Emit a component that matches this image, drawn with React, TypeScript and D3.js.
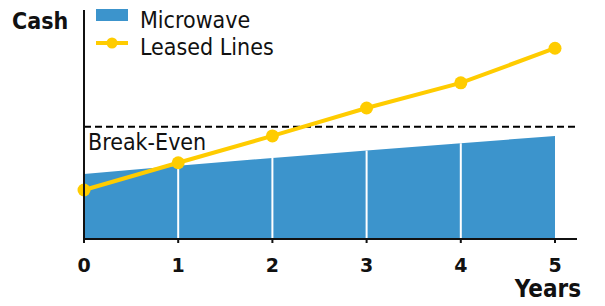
import { useRef, useEffect } from "react";
import * as d3 from "d3";

// data
const years = [0, 1, 2, 3, 4, 5];
const microwave = [28.4, 32, 35.4, 38.6, 41.8, 45];
const leasedLines = [21.4, 33.3, 45, 57.2, 68.2, 83.3];
const breakEven = 49;
const seriesNames = ["Microwave", "Leased Lines"];

const BLUE = "#3c94cc";
const YELLOW = "#ffcc00";
const FONT = "'DejaVu Sans Condensed', 'DejaVu Sans', sans-serif";

export default function App() {
  const svgRef = useRef<SVGSVGElement>(null);

  useEffect(() => {
    const width = 605;
    const height = 306;

    const svg = d3.select(svgRef.current).attr("width", width).attr("height", height);
    svg.selectAll("*").remove();

    const x = d3.scaleLinear().domain([0, 5]).range([84, 555]);
    const y = d3.scaleLinear().domain([0, 100]).range([239, 10]);

    const mwData = years.map((yr, i) => ({ x: yr, y: microwave[i] }));
    const llData = years.map((yr, i) => ({ x: yr, y: leasedLines[i] }));

    // microwave area
    const area = d3
      .area<{ x: number; y: number }>()
      .x((d) => x(d.x))
      .y0(y(0))
      .y1((d) => y(d.y));
    svg.append("path").datum(mwData).attr("d", area).attr("fill", BLUE);

    // white separators inside area
    svg
      .selectAll(".sep")
      .data(mwData.slice(1, -1))
      .join("line")
      .attr("x1", (d) => x(d.x))
      .attr("x2", (d) => x(d.x))
      .attr("y1", (d) => y(d.y))
      .attr("y2", y(0))
      .attr("stroke", "#fff")
      .attr("stroke-width", 2);

    // break-even
    svg
      .append("line")
      .attr("x1", x(0))
      .attr("x2", 577)
      .attr("y1", y(breakEven))
      .attr("y2", y(breakEven))
      .attr("stroke", "#000")
      .attr("stroke-width", 2)
      .attr("stroke-dasharray", "7,4");
    svg
      .append("text")
      .attr("x", 88)
      .attr("y", y(breakEven) + 23)
      .attr("font-family", FONT)
      .attr("font-size", 23)
      .attr("fill", "#111")
      .text("Break-Even");

    // leased lines
    const line = d3
      .line<{ x: number; y: number }>()
      .x((d) => x(d.x))
      .y((d) => y(d.y));
    svg
      .append("path")
      .datum(llData)
      .attr("d", line)
      .attr("fill", "none")
      .attr("stroke", YELLOW)
      .attr("stroke-width", 4);
    svg
      .selectAll(".dot")
      .data(llData)
      .join("circle")
      .attr("cx", (d) => x(d.x))
      .attr("cy", (d) => y(d.y))
      .attr("r", 6.5)
      .attr("fill", YELLOW);

    // axes
    svg
      .append("line")
      .attr("x1", x(0))
      .attr("x2", x(0))
      .attr("y1", 10)
      .attr("y2", y(0) + 1)
      .attr("stroke", "#111")
      .attr("stroke-width", 2);
    svg
      .append("line")
      .attr("x1", x(0) - 1)
      .attr("x2", 577)
      .attr("y1", y(0))
      .attr("y2", y(0))
      .attr("stroke", "#111")
      .attr("stroke-width", 2);

    svg
      .selectAll(".tick")
      .data(years)
      .join("line")
      .attr("x1", (d) => x(d))
      .attr("x2", (d) => x(d))
      .attr("y1", y(0))
      .attr("y2", y(0) + 4)
      .attr("stroke", "#111")
      .attr("stroke-width", 2);

    svg
      .selectAll(".tickLabel")
      .data(years)
      .join("text")
      .attr("x", (d) => x(d))
      .attr("y", 272)
      .attr("text-anchor", "middle")
      .attr("font-family", "'DejaVu Sans', sans-serif")
      .attr("font-weight", "bold")
      .attr("font-size", 19)
      .attr("fill", "#111")
      .text((d) => d);

    svg
      .append("text")
      .attr("x", 581)
      .attr("y", 297)
      .attr("text-anchor", "end")
      .attr("font-family", FONT)
      .attr("font-weight", "bold")
      .attr("font-size", 24)
      .attr("fill", "#111")
      .text("Years");

    svg
      .append("text")
      .attr("x", 12)
      .attr("y", 29)
      .attr("font-family", FONT)
      .attr("font-weight", "bold")
      .attr("font-size", 23)
      .attr("fill", "#111")
      .text("Cash");

    // legend
    const legend = svg.append("g");
    legend.append("rect").attr("x", 96).attr("y", 9).attr("width", 32).attr("height", 12).attr("fill", BLUE);
    legend
      .append("line")
      .attr("x1", 96)
      .attr("x2", 128)
      .attr("y1", 43)
      .attr("y2", 43)
      .attr("stroke", YELLOW)
      .attr("stroke-width", 4);
    legend.append("circle").attr("cx", 112).attr("cy", 43).attr("r", 5.5).attr("fill", YELLOW);
    legend
      .selectAll("text")
      .data(seriesNames)
      .join("text")
      .attr("x", 140)
      .attr("y", (d, i) => 28 + i * 27)
      .attr("font-family", FONT)
      .attr("font-size", 23)
      .attr("fill", "#111")
      .text((d) => d);
  }, []);

  return (
    <div style={{ position: "fixed", left: 0, top: 0, background: "#fff" }}>
      <svg ref={svgRef} style={{ display: "block" }}></svg>
    </div>
  );
}
